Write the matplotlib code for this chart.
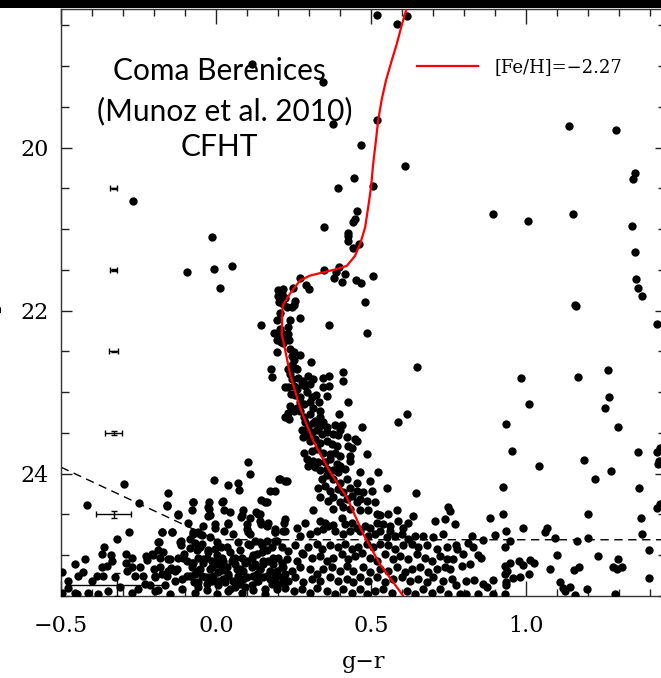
import numpy as np
import matplotlib
matplotlib.use("Agg")
import matplotlib.pyplot as plt
from matplotlib.ticker import MultipleLocator
from matplotlib.patches import Rectangle

# Coma Berenices CMD (g-r, r)
# bright / sparse stars
upper = [(0.115, 18.97), (0.346, 19.20), (-0.269, 20.65), (-0.013, 21.10), (0.348, 20.97),
         (-0.094, 21.52), (-0.005, 21.49), (0.050, 21.45), (0.013, 21.72), (0.348, 21.50),
         (0.518, 18.37), (0.583, 18.48), (0.617, 18.39), (0.518, 19.66), (0.378, 19.71),
         (0.468, 19.97), (0.610, 20.22), (0.446, 20.37), (0.507, 20.47), (0.395, 20.49),
         (0.454, 20.78), (0.448, 20.88), (0.441, 20.91), (0.427, 21.05), (0.427, 21.09),
         (0.425, 21.15), (0.441, 21.23), (0.462, 21.18), (0.398, 21.46)]

red_field = [(0.893, 20.81), (1.005, 20.90), (1.151, 20.81), (1.138, 19.73), (1.290, 19.79),
             (1.353, 20.31), (1.346, 20.39), (1.342, 20.96), (1.351, 21.28), (1.355, 21.61),
             (1.362, 21.72), (1.373, 21.82), (1.158, 21.93), (1.162, 21.94), (1.421, 22.16),
             (0.985, 22.82), (1.169, 22.81), (1.264, 22.73), (0.649, 22.69), (0.616, 23.27)]

# turnoff / subgiant region
msto = [(0.271, 21.60), (0.290, 21.69), (0.299, 21.74), (0.387, 21.53), (0.416, 21.55),
        (0.381, 21.60), (0.405, 21.65), (0.450, 21.62), (0.468, 21.66), (0.505, 21.58),
        (0.481, 21.89), (0.488, 22.27), (0.365, 22.18), (0.144, 22.18),
        (0.201, 21.75), (0.217, 21.73), (0.247, 21.72), (0.201, 21.82), (0.212, 21.80),
        (0.223, 21.84), (0.203, 21.90), (0.217, 21.92), (0.255, 21.88), (0.250, 21.93),
        (0.228, 21.96), (0.244, 21.96), (0.207, 22.03), (0.239, 22.11), (0.271, 22.09),
        (0.198, 22.12), (0.233, 22.20), (0.207, 22.22), (0.188, 22.28), (0.201, 22.30),
        (0.217, 22.29), (0.233, 22.29), (0.198, 22.36), (0.209, 22.38), (0.223, 22.36),
        (0.237, 22.36), (0.217, 22.40), (0.239, 22.47), (0.250, 22.51), (0.244, 22.56),
        (0.196, 22.51), (0.271, 22.55), (0.307, 22.63), (0.250, 22.61), (0.244, 22.67),
        (0.255, 22.70), (0.177, 22.71), (0.180, 22.81), (0.233, 22.72), (0.239, 22.78),
        (0.260, 22.72), (0.266, 22.82), (0.244, 22.84), (0.298, 22.80), (0.282, 22.86),
        (0.276, 22.90), (0.223, 22.94), (0.233, 22.94), (0.250, 22.92), (0.260, 22.96),
        (0.287, 22.92), (0.303, 22.90), (0.314, 22.84), (0.346, 22.83), (0.365, 22.80),
        (0.409, 22.75), (0.410, 22.86), (0.346, 22.94), (0.365, 22.93), (0.241, 23.02),
        (0.255, 23.04), (0.271, 23.06), (0.293, 23.00), (0.309, 23.06), (0.271, 23.12),
        (0.284, 23.14), (0.303, 23.12), (0.333, 23.12), (0.322, 23.04), (0.357, 23.05),
        (0.427, 23.12), (0.239, 23.17), (0.260, 23.19), (0.253, 23.23), (0.271, 23.23),
        (0.284, 23.31), (0.303, 23.27), (0.314, 23.19), (0.233, 23.25), (0.237, 23.33),
        (0.223, 23.31), (0.336, 23.23), (0.336, 23.31), (0.319, 23.35), (0.398, 23.27)]

# main sequence and faint field, middle
ms_mid = [(0.287, 23.37), (0.298, 23.41), (0.314, 23.38), (0.325, 23.37), (0.336, 23.41),
          (0.346, 23.36), (0.357, 23.43), (0.384, 23.40), (0.400, 23.47), (0.405, 23.40),
          (0.470, 23.43), (0.588, 23.37),
          (0.276, 23.47), (0.293, 23.51), (0.309, 23.49), (0.325, 23.47), (0.341, 23.51),
          (0.357, 23.49), (0.379, 23.51), (0.395, 23.53), (0.422, 23.55), (0.448, 23.57),
          (0.454, 23.60), (0.282, 23.55), (0.303, 23.60), (0.319, 23.57), (0.336, 23.62),
          (0.357, 23.60), (0.373, 23.64), (0.389, 23.66), (0.427, 23.66), (0.438, 23.68),
          (0.284, 23.74), (0.309, 23.72), (0.325, 23.70), (0.346, 23.74), (0.368, 23.76),
          (0.384, 23.74), (0.400, 23.78), (0.432, 23.78), (0.486, 23.76),
          (0.432, 23.84), (0.293, 23.82), (0.314, 23.84), (0.330, 23.86), (0.352, 23.86),
          (0.368, 23.82), (0.389, 23.88), (0.400, 23.90), (0.416, 23.94),
          (0.298, 23.90), (0.319, 23.92), (0.336, 23.96), (0.357, 23.94), (0.379, 23.96),
          (0.395, 23.98), (0.228, 24.09), (0.207, 24.07), (0.465, 23.98), (0.524, 23.98),
          (0.497, 24.09), (0.454, 24.11), (0.422, 24.07), (0.400, 24.11), (0.379, 24.07),
          (0.357, 24.02), (0.341, 24.07), (0.330, 24.17), (0.352, 24.15), (0.368, 24.21),
          (0.395, 24.19), (0.411, 24.23), (0.432, 24.17), (0.454, 24.21), (0.475, 24.23),
          (0.502, 24.21), (0.553, 24.18), (0.645, 24.24), (0.465, 24.31),
          (0.336, 24.29), (0.362, 24.33), (0.379, 24.29), (0.400, 24.35), (0.422, 24.31),
          (0.438, 24.27), (0.454, 24.35), (0.486, 24.33), (0.513, 24.35),
          (0.314, 24.45), (0.379, 24.43), (0.411, 24.41), (0.432, 24.43), (0.465, 24.45),
          (0.491, 24.45), (0.518, 24.50), (0.529, 24.51), (0.556, 24.50), (0.583, 24.45),
          (0.637, 24.52), (0.706, 24.58), (0.739, 24.56), (0.749, 24.41), (0.755, 24.46),
          (0.223, 24.56), (0.220, 24.60), (0.287, 24.60), (0.336, 24.58), (0.352, 24.60),
          (0.379, 24.63), (0.405, 24.54), (0.416, 24.62), (0.438, 24.60), (0.454, 24.66),
          (0.481, 24.64), (0.497, 24.66), (0.518, 24.60), (0.540, 24.62), (0.561, 24.64),
          (0.588, 24.58), (0.604, 24.66), (0.620, 24.60), (0.561, 24.70), (0.771, 24.62),
          (0.223, 24.70), (0.260, 24.66), (0.271, 24.76), (0.303, 24.74), (0.325, 24.70),
          (0.346, 24.68), (0.362, 24.64), (0.384, 24.70), (0.411, 24.74), (0.432, 24.70),
          (0.465, 24.70), (0.491, 24.76), (0.513, 24.74), (0.529, 24.70), (0.551, 24.78),
          (0.577, 24.76), (0.599, 24.74), (0.620, 24.80), (0.642, 24.76), (0.669, 24.76),
          (0.701, 24.78), (0.733, 24.74)]

ms_faint = [(0.212, 24.90), (0.233, 24.95), (0.255, 24.88), (0.276, 24.97), (0.298, 24.90),
            (0.325, 24.86), (0.341, 24.92), (0.368, 24.88), (0.395, 24.90), (0.416, 24.86),
            (0.438, 24.92), (0.459, 24.90), (0.486, 24.86), (0.508, 24.90), (0.529, 24.86),
            (0.556, 24.88), (0.577, 24.92), (0.604, 24.88), (0.631, 24.86), (0.653, 24.90),
            (0.680, 24.88), (0.712, 24.92), (0.744, 24.90),
            (0.228, 25.05), (0.260, 25.07), (0.282, 24.99), (0.309, 25.03), (0.336, 25.01),
            (0.357, 25.07), (0.379, 25.03), (0.405, 24.99), (0.427, 25.05), (0.448, 25.01),
            (0.470, 24.97), (0.497, 25.03), (0.518, 25.07), (0.545, 24.99), (0.572, 25.05),
            (0.594, 25.01), (0.620, 25.05), (0.647, 24.99), (0.674, 25.03), (0.696, 25.07),
            (0.723, 25.01), (0.744, 25.05),
            (0.217, 25.15), (0.244, 25.19), (0.271, 25.15), (0.303, 25.17), (0.325, 25.23),
            (0.346, 25.17), (0.373, 25.15), (0.400, 25.19), (0.422, 25.13), (0.443, 25.19),
            (0.475, 25.15), (0.497, 25.21), (0.529, 25.17), (0.556, 25.19), (0.583, 25.15),
            (0.610, 25.21), (0.631, 25.17), (0.658, 25.15), (0.685, 25.21), (0.712, 25.17),
            (0.739, 25.15),
            (0.212, 25.27), (0.233, 25.31), (0.255, 25.27), (0.282, 25.33), (0.309, 25.29),
            (0.336, 25.31), (0.368, 25.27), (0.395, 25.31), (0.422, 25.29), (0.443, 25.33),
            (0.465, 25.27), (0.491, 25.31), (0.518, 25.27), (0.545, 25.33), (0.572, 25.29),
            (0.599, 25.27), (0.626, 25.31), (0.653, 25.29), (0.680, 25.33), (0.701, 25.27),
            (0.733, 25.31),
            (0.223, 25.40), (0.250, 25.44), (0.276, 25.42), (0.303, 25.46), (0.325, 25.40),
            (0.357, 25.44), (0.384, 25.48), (0.411, 25.42), (0.438, 25.46), (0.465, 25.42),
            (0.486, 25.48), (0.513, 25.44), (0.540, 25.42), (0.567, 25.46), (0.615, 25.44),
            (0.642, 25.48), (0.669, 25.42), (0.696, 25.46), (0.723, 25.42), (0.749, 25.48)]

# faint field, blue side
faint_left = [(-0.296, 24.13), (-0.417, 24.38), (-0.248, 24.36), (-0.156, 24.24), (-0.157, 24.38),
              (-0.124, 24.50), (-0.005, 24.08), (0.040, 24.14), (0.070, 24.11), (0.073, 24.20),
              (0.102, 23.86), (0.110, 24.00), (0.203, 24.06), (0.222, 24.09), (0.174, 24.21),
              (0.190, 24.21), (0.144, 24.32), (0.163, 24.35), (-0.075, 24.35), (-0.079, 24.45),
              (-0.023, 24.35), (-0.023, 24.43), (0.021, 24.34), (0.027, 24.45), (-0.027, 24.52),
              (-0.089, 24.60), (-0.057, 24.71), (-0.075, 24.74), (-0.046, 24.75), (-0.003, 24.62),
              (0.040, 24.60), (0.025, 24.70), (0.088, 24.45), (0.080, 24.53), (0.099, 24.68),
              (0.104, 24.72), (0.129, 24.47), (0.142, 24.49), (0.145, 24.62), (0.169, 24.60),
              (0.190, 24.68), (0.190, 24.72), (0.217, 24.70), (0.164, 24.82), (0.190, 24.82),
              (-0.319, 24.80), (-0.281, 24.72), (-0.173, 24.72), (-0.143, 24.72), (-0.184, 24.84),
              (-0.113, 24.82), (-0.360, 24.90), (-0.369, 24.99), (-0.339, 25.00), (-0.423, 25.05),
              (-0.455, 25.11), (-0.496, 25.21), (-0.428, 25.20), (-0.446, 25.26), (-0.476, 25.31),
              (-0.385, 25.25), (-0.364, 25.26), (-0.353, 25.13), (-0.334, 25.07), (-0.291, 24.99),
              (-0.272, 25.03), (-0.291, 25.09), (-0.288, 25.19), (-0.272, 25.15), (-0.261, 25.25),
              (-0.227, 25.01), (-0.224, 25.06), (-0.208, 24.99), (-0.200, 25.17), (-0.197, 25.25),
              (-0.234, 25.25), (-0.175, 25.23), (-0.156, 25.19), (-0.145, 25.16), (-0.132, 25.19),
              (-0.186, 24.94), (-0.181, 25.03), (-0.154, 25.05), (-0.121, 25.03), (-0.102, 24.99),
              (-0.095, 25.07), (-0.113, 24.88), (-0.084, 24.91), (-0.068, 24.85), (-0.052, 24.90),
              (-0.079, 25.09), (-0.076, 25.14), (-0.057, 25.19), (-0.046, 25.25), (-0.095, 25.25),
              (-0.111, 25.29), (-0.030, 25.03), (-0.014, 25.07), (-0.025, 24.96), (-0.003, 24.92),
              (0.016, 24.90), (0.007, 25.05), (0.024, 25.07), (-0.019, 25.17), (0.007, 25.21),
              (0.020, 25.18), (0.045, 24.96), (0.061, 25.03), (0.061, 25.11), (0.040, 25.23),
              (0.072, 25.25), (0.088, 25.19), (0.099, 25.07), (0.115, 25.03), (0.131, 24.99),
              (0.147, 24.96), (0.104, 24.86), (0.126, 24.82), (0.147, 24.88), (0.180, 24.90),
              (0.126, 25.11), (0.142, 25.17), (0.169, 25.07), (0.185, 25.11), (0.199, 25.03),
              (0.212, 25.09), (0.196, 25.19), (0.222, 25.23),
              (-0.070, 25.33), (-0.057, 25.39), (-0.030, 25.35), (-0.014, 25.31), (0.007, 25.37),
              (0.029, 25.33), (0.040, 25.44), (0.061, 25.39), (0.077, 25.35), (0.093, 25.39),
              (0.115, 25.37), (0.136, 25.31), (0.158, 25.41), (0.180, 25.35), (0.196, 25.41),
              (0.217, 25.33), (-0.197, 25.44), (-0.213, 25.37), (-0.165, 25.37), (-0.253, 25.41),
              (-0.310, 25.39), (-0.326, 25.27), (-0.412, 25.46), (-0.450, 25.48), (-0.476, 25.40),
              (-0.057, 25.03), (-0.041, 25.09), (-0.014, 25.15), (0.002, 25.11), (0.018, 25.03),
              (0.034, 25.15), (0.050, 25.07), (0.067, 25.17), (0.083, 25.03), (0.115, 25.15),
              (0.131, 25.23), (0.153, 25.11), (0.174, 25.19), (0.190, 25.27), (0.212, 25.15),
              (-0.068, 25.23), (-0.036, 25.27), (-0.009, 25.25), (0.024, 25.29), (0.056, 25.31),
              (0.088, 25.29), (0.120, 25.25), (0.153, 25.27), (0.174, 25.29), (0.201, 25.35),
              (-0.455, 25.46), (-0.380, 25.48), (-0.347, 25.44), (-0.272, 25.46), (-0.229, 25.35),
              (-0.245, 25.15), (-0.369, 25.15), (-0.401, 25.31), (-0.498, 25.46)]

# extra stars in the dense faint band below the turnoff
faint_band = [(-0.159, 24.39), (-0.073, 24.35), (-0.025, 24.41), (0.018, 24.35), (0.045, 24.47),
              (-0.121, 24.51), (-0.019, 24.51), (0.083, 24.51), (0.110, 24.54), (0.136, 24.49),
              (0.158, 24.35), (0.142, 24.58),
              (-0.175, 24.72), (-0.143, 24.72), (-0.073, 24.72), (-0.041, 24.64), (-0.052, 24.74),
              (-0.003, 24.66), (0.040, 24.62), (0.099, 24.62), (0.163, 24.64), (0.190, 24.72),
              (0.056, 24.74), (0.110, 24.74),
              (-0.186, 24.84), (-0.116, 24.84), (-0.084, 24.80), (-0.046, 24.86), (-0.019, 24.78),
              (0.002, 24.84), (0.034, 24.90), (0.072, 24.84), (0.110, 24.88), (0.142, 24.84),
              (0.196, 24.82), (-0.170, 24.96), (-0.062, 24.94), (-0.025, 24.94), (0.077, 24.94),
              (0.163, 24.94),
              (-0.202, 25.00), (-0.148, 25.05), (-0.105, 25.03), (-0.073, 25.09), (-0.041, 25.05),
              (0.002, 25.00), (0.024, 25.11), (0.056, 25.05), (0.093, 25.09), (0.120, 25.00),
              (0.153, 25.07), (0.185, 25.03), (-0.181, 25.15), (-0.127, 25.17), (-0.052, 25.17),
              (0.077, 25.17), (0.142, 25.17),
              (-0.197, 25.27), (-0.159, 25.25), (-0.132, 25.31), (-0.084, 25.25), (-0.057, 25.33),
              (-0.025, 25.27), (0.007, 25.31), (0.040, 25.25), (0.067, 25.33), (0.099, 25.27),
              (0.131, 25.31), (0.163, 25.25), (0.190, 25.33),
              (-0.186, 25.43), (-0.148, 25.48), (-0.111, 25.41), (-0.068, 25.46), (-0.030, 25.43),
              (0.002, 25.48), (0.045, 25.41), (0.083, 25.46), (0.120, 25.43), (0.158, 25.48)]

# faint field, red side
faint_right = [(0.934, 23.39), (1.010, 23.15), (0.954, 23.72), (1.042, 23.91), (0.927, 24.16),
               (1.269, 23.06), (1.256, 23.19), (1.297, 23.43), (1.187, 23.83), (1.275, 23.97),
               (1.222, 24.06), (1.360, 23.73), (1.364, 24.17), (1.421, 23.73), (1.430, 23.84),
               (1.427, 23.88), (1.432, 23.68),
               (0.884, 24.54), (0.927, 24.49), (0.935, 24.70), (0.901, 24.75), (0.991, 24.66),
               (1.069, 24.66), (1.061, 24.72), (0.949, 24.83), (0.931, 24.90), (0.862, 24.81),
               (0.825, 24.76), (0.814, 24.85), (0.828, 24.90), (0.774, 24.88), (0.776, 24.92),
               (0.798, 24.99), (0.819, 25.11), (0.844, 25.00), (0.854, 25.03), (0.795, 25.13),
               (0.763, 25.05), (0.755, 25.17), (0.762, 25.29), (0.774, 25.36), (0.806, 25.31),
               (0.832, 25.30), (0.862, 25.35), (0.875, 25.39), (0.892, 25.30), (0.787, 25.47),
               (0.806, 25.47), (0.846, 25.48), (0.895, 25.48),
               (0.931, 25.13), (0.938, 25.19), (0.948, 25.10), (0.932, 25.23), (0.935, 25.33),
               (0.937, 25.36), (0.959, 25.28), (0.981, 25.27), (0.979, 25.07), (0.989, 25.12),
               (1.013, 25.06), (1.026, 25.09), (1.011, 25.23), (0.931, 25.48),
               (1.095, 24.79), (1.099, 25.00), (1.077, 25.17), (1.163, 24.83), (1.199, 24.49),
               (1.200, 24.79), (1.232, 25.01), (1.155, 25.18), (1.172, 25.14), (1.110, 25.33),
               (1.118, 25.40), (1.126, 25.44), (1.142, 25.39), (1.158, 25.49), (1.198, 25.41),
               (1.286, 25.47), (1.280, 25.15), (1.292, 25.17), (1.296, 25.05), (1.310, 25.14),
               (1.370, 24.54), (1.374, 24.74), (1.396, 24.93), (1.398, 25.28), (1.424, 24.42),
               (1.432, 24.37)]

# isochrone [Fe/H] = -2.27
iso_gr = [0.620, 0.613, 0.599, 0.583, 0.567, 0.548, 0.534, 0.523, 0.516, 0.507, 0.500, 0.491,
          0.481, 0.465, 0.448, 0.422, 0.389, 0.368, 0.303, 0.271, 0.239, 0.215, 0.212, 0.217,
          0.239, 0.271, 0.314, 0.368, 0.422, 0.475, 0.529, 0.606]
iso_r = [18.20, 18.32, 18.50, 18.73, 18.93, 19.18, 19.42, 19.67, 19.91, 20.20, 20.49, 20.73,
         20.98, 21.18, 21.33, 21.45, 21.49, 21.51, 21.57, 21.63, 21.79, 21.94, 22.29, 22.37,
         22.78, 23.19, 23.60, 23.98, 24.29, 24.74, 25.11, 25.51]

# completeness limit (dashed)
lim_gr = [-0.5, 0.0, 1.5]
lim_r = [23.92, 24.81, 24.81]

# photometric error bars
err_gr = [-0.33, -0.33, -0.33, -0.33, -0.33, -0.32]
err_r = [20.5, 21.5, 22.5, 23.5, 24.5, 25.36]
err_x = [0.011, 0.011, 0.014, 0.027, 0.056, 0.155]
err_y = [0.005, 0.008, 0.01, 0.02, 0.04, 0.14]

stars = np.array(upper + red_field + msto + ms_mid + ms_faint + faint_left
                 + faint_band + faint_right)

fig = plt.figure(figsize=(6.61, 6.78), dpi=100)
ax = fig.add_axes([61 / 661, 82 / 678, 604.5 / 661, 587 / 678])

ax.scatter(stars[:, 0], stars[:, 1], s=36, color='black', linewidths=0, zorder=3)
ax.errorbar(err_gr, err_r, xerr=err_x, yerr=err_y, fmt='none', ecolor='black',
            elinewidth=1, capsize=2.5, capthick=1, zorder=4)
ax.plot(lim_gr, lim_r, color='black', lw=1, dashes=(6, 4), zorder=2)
ax.plot(iso_gr, iso_r, color='red', lw=1.6, zorder=5, label='[Fe/H]=\u22122.27')

ax.set_xlim(-0.5, 1.45)
ax.set_ylim(25.5, 18.3)

ax.xaxis.set_major_locator(MultipleLocator(0.5))
ax.xaxis.set_minor_locator(MultipleLocator(0.1))
ax.yaxis.set_major_locator(MultipleLocator(2))
ax.yaxis.set_minor_locator(MultipleLocator(0.5))
ax.tick_params(which='both', direction='in', top=True, right=True, width=1, color='#222222')
ax.tick_params(axis='x', which='major', length=11, pad=14, labelsize=16)
ax.tick_params(axis='x', which='minor', length=5)
ax.tick_params(axis='y', which='major', length=8, pad=9, labelsize=16)
ax.tick_params(axis='y', which='minor', length=6)
for lab in ax.get_xticklabels() + ax.get_yticklabels():
    lab.set_family('DejaVu Serif')
for sp in ax.spines.values():
    sp.set_linewidth(1)
    sp.set_color('#333333')

ax.set_xlabel('g\u2212r', family='DejaVu Serif', fontsize=16, labelpad=10)
fig.text(-0.006, 0.546, 'r', rotation=90, family='DejaVu Serif', fontsize=15,
         ha='center', va='center')

ax.text(219 / 661, 1 - 71 / 678, 'Coma Berenices', transform=fig.transFigure,
        family='Lato', fontsize=21.5, ha='center', va='center')
ax.text(225 / 661, 1 - 111 / 678, '(Munoz et al. 2010)', transform=fig.transFigure,
        family='Lato', fontsize=21.5, ha='center', va='center')
ax.text(219 / 661, 1 - 147 / 678, 'CFHT', transform=fig.transFigure,
        family='Lato', fontsize=21.5, ha='center', va='center')

leg = ax.legend(loc='center left', bbox_to_anchor=(0.589, 0.901), frameon=False,
                borderpad=0, borderaxespad=0, handlelength=3.4, handletextpad=0.9,
                prop={'family': 'DejaVu Serif', 'size': 13})

# dark band along the top edge of the scan
fig.patches.append(Rectangle((0, 1 - 8 / 678), 1, 8 / 678, transform=fig.transFigure,
                             facecolor='black', edgecolor='none', zorder=10))

fig.savefig('out.png', dpi=100)
